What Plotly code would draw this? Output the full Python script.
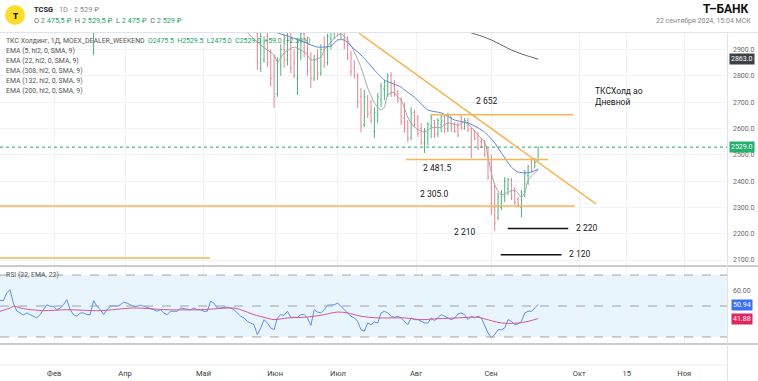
import plotly.graph_objects as go

W, H = 758, 381

# ---------------- data ----------------
bar_index = [28] + list(range(77, 162))
bar_open = [2890,
            2960, 2830, 2860, 2950, 2850, 2800, 2730, 2840, 2900, 2860, 2930, 2850, 2790, 2890,
            2960, 2890, 2830, 2790, 2860, 2810, 2900, 2850, 2940, 2980, 3020, 2960, 3000,
            2940, 2880, 2830, 2800, 2720, 2615, 2715, 2660, 2590, 2650, 2710, 2750, 2760, 2800,
            2760, 2740,
            2710, 2640, 2610, 2565, 2660, 2640, 2600, 2545, 2580, 2610, 2630, 2580, 2615, 2645,
            2600, 2645, 2615, 2610, 2640, 2600, 2630, 2600, 2590, 2570, 2550, 2545, 2505, 2470,
            2300, 2260, 2300, 2340, 2370, 2405, 2360, 2330, 2300, 2360, 2420, 2480, 2450, 2475.5]
bar_high = [3000,
            2985, 2980, 2950, 2990, 2900, 2880, 2870, 2920, 2960, 2980, 2970, 2900, 2940, 2990,
            3000, 2950, 2890, 2880, 2900, 2920, 2950, 2960, 3010, 3040, 3050, 3040, 3020,
            2950, 2895, 2860, 2810, 2754, 2746, 2727, 2708, 2681, 2735, 2773, 2784, 2810, 2814,
            2784, 2746,
            2719, 2697, 2632, 2681, 2670, 2651, 2621, 2602, 2624, 2651, 2632, 2640, 2651, 2651,
            2659, 2645, 2624, 2624, 2652, 2640, 2640, 2602, 2594, 2586, 2564, 2556, 2526, 2499,
            2393, 2355, 2366, 2415, 2412, 2412, 2377, 2339, 2366, 2442, 2461, 2491, 2488, 2529.5]
bar_low = [2878,
           2822, 2814, 2850, 2833, 2760, 2678, 2720, 2800, 2830, 2840, 2810, 2790, 2727, 2860,
           2870, 2800, 2754, 2780, 2784, 2800, 2830, 2840, 2900, 2940, 2950, 2940, 2900,
           2860, 2800, 2790, 2678, 2586, 2605, 2640, 2620, 2564, 2620, 2681, 2708, 2720, 2720,
           2720, 2697,
           2613, 2583, 2548, 2555, 2605, 2567, 2537, 2507, 2537, 2564, 2564, 2567, 2586, 2583,
           2586, 2586, 2583, 2567, 2594, 2595, 2586, 2488, 2556, 2518, 2526, 2491, 2404, 2271,
           2210, 2252, 2290, 2320, 2347, 2328, 2309, 2301, 2262, 2339, 2385, 2434, 2450, 2475]
bar_close = [2980,
             2850, 2950, 2930, 2850, 2790, 2720, 2850, 2900, 2860, 2940, 2830, 2800, 2900, 2960,
             2890, 2820, 2790, 2860, 2810, 2900, 2850, 2950, 2990, 3020, 2970, 3010, 2920,
             2870, 2815, 2800, 2700, 2610, 2720, 2655, 2630, 2660, 2720, 2760, 2775, 2800, 2740,
             2730, 2705,
             2625, 2600, 2560, 2660, 2615, 2580, 2545, 2590, 2615, 2640, 2580, 2630, 2645, 2600,
             2650, 2600, 2590, 2575, 2605, 2630, 2595, 2495, 2560, 2525, 2530, 2500, 2415, 2290,
             2240, 2340, 2350, 2400, 2405, 2340, 2320, 2310, 2355, 2430, 2455, 2440, 2470, 2529]

ema5_x = [74, 78, 80, 82, 83, 85, 88, 90, 92, 93, 96, 97, 99, 101, 102, 104, 106, 108, 110, 112,
          114, 115, 116, 118, 119, 120, 122, 124, 127, 129, 132, 134, 137, 139, 141, 143, 145, 146,
          147, 148, 150, 152, 154, 156, 157, 158, 160, 161]
ema5_v = [2963, 2917, 2898, 2879, 2852, 2887, 2909, 2898, 2879, 2860, 2871, 2898, 2928, 2955, 2959,
          2936, 2890, 2833, 2754, 2697, 2670, 2681, 2727, 2738, 2719, 2708, 2643, 2605, 2586, 2602,
          2605, 2621, 2613, 2624, 2605, 2575, 2548, 2491, 2431, 2385, 2347, 2358, 2366, 2339, 2355,
          2404, 2431, 2442]

ema22_x = [81, 83, 87, 91, 95, 99, 101, 103, 105, 108, 110, 112, 115, 117, 120, 121, 124, 128, 132,
           136, 140, 143, 145, 148, 150, 153, 155, 157, 159, 161]
ema22_v = [2975, 2963, 2947, 2928, 2909, 2913, 2936, 2936, 2913, 2879, 2852, 2822, 2784, 2773, 2757,
           2746, 2719, 2670, 2659, 2632, 2621, 2602, 2586, 2545, 2507, 2453, 2434, 2431, 2434, 2446]

ema_long_x = [135, 141, 144, 147, 150, 153, 156, 159, 161]
ema_long_v = [2990, 2963, 2951, 2936, 2917, 2898, 2883, 2871, 2863]

rsi_v = [53.7, 53.4, 58.4, 60.5, 51.9, 46.8, 45.5, 44.2, 45.5, 44.4,
         43.5, 42.3, 44.4, 47.6, 50.8, 49.8, 49.8, 47.6, 48.7, 50.8,
         54.1, 47.6, 44.4, 43.4, 45.5, 45.5, 44.4, 44.4, 53.4, 49.8,
         47.6, 44.4, 47.6, 49.8, 50.2, 49.8, 50.8, 52.4, 51.9, 50.8,
         49.8, 49.8, 50.5, 49.8, 49.2, 48.7, 47.6, 46.6, 47.6, 45.5,
         44.4, 46.6, 46.6, 46.6, 48.7, 48.3, 48.3, 47.6, 48.7, 47.6,
         47.6, 46.6, 46.6, 53.0, 51.9, 48.7, 48.7, 49.2, 49.2, 48.7,
         47.6, 45.5, 43.4, 42.3, 40.1, 39.0, 37.9, 31.5, 35.8, 41.2,
         39.0, 35.8, 34.7,
         42.3, 44.4, 44.0, 46.6, 42.7, 42.7, 42.7, 44.4, 44.4, 42.3,
         37.5, 47.6, 46.1, 45.5, 47.6, 50.5, 50.5, 50.8, 51.9, 49.8,
         47.6, 45.5, 43.4, 42.3, 40.1, 34.7, 33.7, 39.0, 37.9, 39.7,
         39.0, 45.5, 46.6, 45.5, 43.4, 42.7, 43.4, 42.3, 40.1, 37.9,
         42.3, 41.2, 41.2, 40.1, 39.0, 39.0, 42.3, 40.5, 42.3, 44.4,
         43.4, 42.3, 41.2, 42.3, 44.8, 45.5, 44.4, 41.2, 43.4, 42.3,
         43.4, 42.3, 36.9, 32.6, 29.4, 31.5, 34.7, 34.7, 35.8, 41.2,
         40.1, 37.9, 38.4, 40.1, 45.5, 46.6, 46.6, 48.7, 50.94]
rsi_x = list(range(len(rsi_v)))

rsi_ema_x = [0, 3, 4, 7, 13, 20, 30, 40, 50, 60, 70, 72, 76, 79, 82, 86, 91, 96, 101, 104,
             108, 113, 121, 126, 131, 137, 143, 147, 150, 155, 158, 161]
rsi_ema_v = [46.6, 48.7, 49.8, 48.3, 47.0, 47.6, 47.0, 48.7, 47.6, 47.6, 48.7, 47.6, 44.4, 42.7,
             41.2, 42.3, 42.7, 44.0, 46.1, 45.5, 43.4, 42.3, 42.3, 41.2, 41.8, 42.3, 42.7, 40.5,
             39.0, 39.0, 40.1, 41.88]

month_ticks = [16.2, 37.4, 60.9, 82.3, 101.1, 124.5, 146.9, 173.3, 187.5, 204.7]
month_labels = ["Фев", "Апр", "Май", "Июн", "Июл", "Авг", "Сен", "Окт", "15", "Ноя"]
price_ticks = [2100, 2200, 2300, 2400, 2500, 2600, 2700, 2800, 2900]
rsi_ticks = [60]
rsi_levels = [70, 50, 30]

# drawings: (x0, x1, price)
orange_levels = [(128.7, 171.5, 2652.0), (121.5, 164.0, 2481.5), (0.0, 172.0, 2305.0), (0.0, 62.8, 2108.0)]
black_levels = [(151.9, 170.0, 2220.0), (149.8, 168.0, 2120.0)]
trend_line = [(107.4, 2962.0), (178.3, 2313.0)]

# ---------------- layout helpers ----------------
def px(x):
    return x / W

def py(y):
    return 1 - y / H

XR = 727  # right edge of plotting area in px
FONT = "Roboto, 'Open Sans', sans-serif"
GREEN = "#26a269"
RED = "#e8838f"
ORANGE = "#f7b555"

fig = go.Figure()

fig.add_trace(go.Ohlc(
    x=bar_index, open=bar_open, high=bar_high, low=bar_low, close=bar_close,
    increasing=dict(line=dict(color="#4ab37e", width=1)),
    decreasing=dict(line=dict(color=RED, width=1)),
    tickwidth=0.3, showlegend=False, xaxis="x", yaxis="y"))

fig.add_trace(go.Scatter(x=ema5_x, y=ema5_v, mode="lines", line=dict(color="#a6a6a6", width=1, shape="spline", smoothing=0.6),
                         showlegend=False, xaxis="x", yaxis="y"))
fig.add_trace(go.Scatter(x=ema22_x, y=ema22_v, mode="lines", line=dict(color="#5f86d8", width=1, shape="spline", smoothing=0.6),
                         showlegend=False, xaxis="x", yaxis="y"))
fig.add_trace(go.Scatter(x=ema_long_x, y=ema_long_v, mode="lines", line=dict(color="#5c5c5c", width=1, shape="spline", smoothing=0.6),
                         showlegend=False, xaxis="x", yaxis="y"))

fig.add_trace(go.Scatter(x=rsi_x, y=rsi_v, mode="lines", line=dict(color="#5b8def", width=1),
                         showlegend=False, xaxis="x2", yaxis="y2"))
fig.add_trace(go.Scatter(x=rsi_ema_x, y=rsi_ema_v, mode="lines", line=dict(color="#d9558e", width=1, shape="spline", smoothing=0.8),
                         showlegend=False, xaxis="x2", yaxis="y2"))

shapes = []
# RSI band
shapes.append(dict(type="rect", xref="paper", yref="y2", x0=0, x1=px(XR), y0=rsi_levels[-1], y1=rsi_levels[0],
                   fillcolor="#e8f5fd", line=dict(width=0), layer="below"))
for lv in rsi_levels:
    shapes.append(dict(type="line", xref="paper", yref="y2", x0=0, x1=px(XR), y0=lv, y1=lv,
                       line=dict(color="#9ea3ab", width=1, dash="dash")))
# last price dotted line
shapes.append(dict(type="line", xref="paper", yref="y", x0=0, x1=px(XR), y0=bar_close[-1], y1=bar_close[-1],
                   line=dict(color=GREEN, width=1, dash="dot")))
# drawings
for x0, x1, lv in orange_levels:
    shapes.append(dict(type="line", xref="x", yref="y", x0=x0, x1=x1, y0=lv, y1=lv,
                       line=dict(color=ORANGE, width=1.5)))
for x0, x1, lv in black_levels:
    shapes.append(dict(type="line", xref="x", yref="y", x0=x0, x1=x1, y0=lv, y1=lv,
                       line=dict(color="#111111", width=1.5)))
shapes.append(dict(type="line", xref="x", yref="y", x0=trend_line[0][0], y0=trend_line[0][1],
                   x1=trend_line[1][0], y1=trend_line[1][1], line=dict(color=ORANGE, width=1.5)))
# pane borders
shapes.append(dict(type="line", xref="paper", yref="paper", x0=0, x1=1, y0=py(32.5), y1=py(32.5),
                   line=dict(color="#e0e3eb", width=1)))
shapes.append(dict(type="line", xref="paper", yref="paper", x0=0, x1=1, y0=py(266), y1=py(266),
                   line=dict(color="#c9cbd0", width=2)))
shapes.append(dict(type="line", xref="paper", yref="paper", x0=0, x1=1, y0=py(344), y1=py(344),
                   line=dict(color="#c9cbd0", width=2)))
shapes.append(dict(type="line", xref="paper", yref="paper", x0=0, x1=px(XR), y0=py(365), y1=py(365),
                   line=dict(color="#eceef2", width=1)))
shapes.append(dict(type="line", xref="paper", yref="paper", x0=px(XR + 0.5), x1=px(XR + 0.5), y0=0, y1=py(32.5),
                   line=dict(color="#e0e3eb", width=1)))
# logo
shapes.append(dict(type="circle", xref="paper", yref="paper", x0=px(5), x1=px(25), y0=py(25), y1=py(5),
                   fillcolor="#ffdd2d", line=dict(width=0)))

ann = []
def text(x, y, s, size=7, color="#555", xanchor="left", yanchor="middle", xref="paper", yref="paper", **kw):
    ann.append(dict(x=x, y=y, xref=xref, yref=yref, text=s, showarrow=False, xanchor=xanchor, yanchor=yanchor,
                    font=dict(size=size, color=color, family=FONT), **kw))

# header
text(px(15), py(15), "<b>т</b>", size=10, color="#111", xanchor="center")
text(px(32), py(9.5), "<b>TCSG</b> <span style='color:#8a8a8a'>· 1D · 2 529 ₽</span>", size=7.5, color="#222")
g = lambda s: f"<span style='color:{GREEN}'>{s}</span>"
text(px(32), py(20.5), "O " + g("2 475,5 ₽") + "  H " + g("2 529,5 ₽") + "  L " + g("2 475 ₽") + "  C " + g("2 529 ₽"),
     size=7.3, color="#666")
text(px(751), py(9.5), "<b>Т–БАНК</b>", size=12, color="#111", xanchor="right",
     )
text(px(753), py(21), "22 сентября 2024, 15:04 МСК", size=7, color="#888", xanchor="right")

# indicator legend
text(px(4), py(40.7), "ТКС Холдинг, 1Д, MOEX_DEALER_WEEKEND  " +
     g("O2475.5  H2529.5  L2475.0  C2529.0  +59.0 (+2.39%)"), size=6.9, color="#555")
for i, s in enumerate(["EMA (5, hl2, 0, SMA, 9)", "EMA (22, hl2, 0, SMA, 9)", "EMA (308, hl2, 0, SMA, 9)",
                       "EMA (132, hl2, 0, SMA, 9)", "EMA (200, hl2, 0, SMA, 9)"]):
    text(px(4), py(50.7 + 10 * i), s, size=6.9, color="#555")
text(px(4), py(275), "RSI (22, EMA, 22)", size=6.9, color="#555")

# chart labels (data coordinates)
LBL = "#131722"
text(145.6, 2705, "2 652", size=8.5, color=LBL, xanchor="center", xref="x", yref="y")
text(130.6, 2450, "2 481.5", size=8.5, color=LBL, xanchor="center", xref="x", yref="y")
text(129.7, 2351, "2 305.0", size=8.5, color=LBL, xanchor="center", xref="x", yref="y")
text(139.1, 2206, "2 210", size=8.5, color=LBL, xanchor="center", xref="x", yref="y")
text(171.8, 2222, "2 220", size=8.5, color=LBL, xref="x", yref="y")
text(169.7, 2123, "2 120", size=8.5, color=LBL, xref="x", yref="y")
text(177.4, 2722, "ТКСХолд ао<br>Дневной", size=8.5, color=LBL, xref="x", yref="y", align="left")

# price-scale badges
def badge(y, s, bg, yref):
    ann.append(dict(x=px(742), y=y, xref="paper", yref=yref, text=s, showarrow=False, xanchor="center",
                    yanchor="middle", bgcolor=bg, borderpad=1,
                    font=dict(size=7, color="white", family=FONT)))
badge(ema_long_v[-1], f"{ema_long_v[-1]:.1f}", "#3e4048", "y")
badge(bar_close[-1], f"{bar_close[-1]:.1f}", "#22b06c", "y")
badge(rsi_v[-1], f"{rsi_v[-1]:.2f}", "#3d6ff2", "y2")
badge(rsi_ema_v[-1], f"{rsi_ema_v[-1]:.2f}", "#e2245f", "y2")

fig.update_layout(
    width=W, height=H, margin=dict(l=0, r=0, t=0, b=0),
    paper_bgcolor="white", plot_bgcolor="white",
    showlegend=False, shapes=shapes, annotations=ann,
    font=dict(family=FONT),
    xaxis=dict(domain=[0, px(XR)], range=[0, 217.5], anchor="y", tickvals=month_ticks, ticktext=month_labels,
               showticklabels=False, showgrid=True, gridcolor="#f0f2f6", zeroline=False,
               rangeslider=dict(visible=False), fixedrange=True),
    yaxis=dict(domain=[py(265), py(33)], range=[2081, 2962.6], side="right", anchor="x",
               tickvals=price_ticks, tickformat=".1f", ticks="", ticklabelstandoff=5,
               tickfont=dict(size=7, color="#6a6a6a"), showgrid=True, gridcolor="#f0f2f6", zeroline=False),
    xaxis2=dict(domain=[0, px(XR)], range=[0, 217.5], anchor="y2", matches="x", tickvals=month_ticks,
                ticktext=month_labels, ticks="", ticklabelstandoff=24, tickfont=dict(size=7.5, color="#3c3c3c"),
                showgrid=True, gridcolor="#f0f2f6", zeroline=False),
    yaxis2=dict(domain=[py(343), py(267)], range=[26.1, 75.2], side="right", anchor="x2",
                tickvals=rsi_ticks, tickformat=".2f", ticks="", ticklabelstandoff=5,
                tickfont=dict(size=7, color="#6a6a6a"), showgrid=False, zeroline=False),
)

fig.write_html("out.html", config={"displayModeBar": False},
               post_script="document.body.style.margin='0';document.body.style.overflow='hidden';")
